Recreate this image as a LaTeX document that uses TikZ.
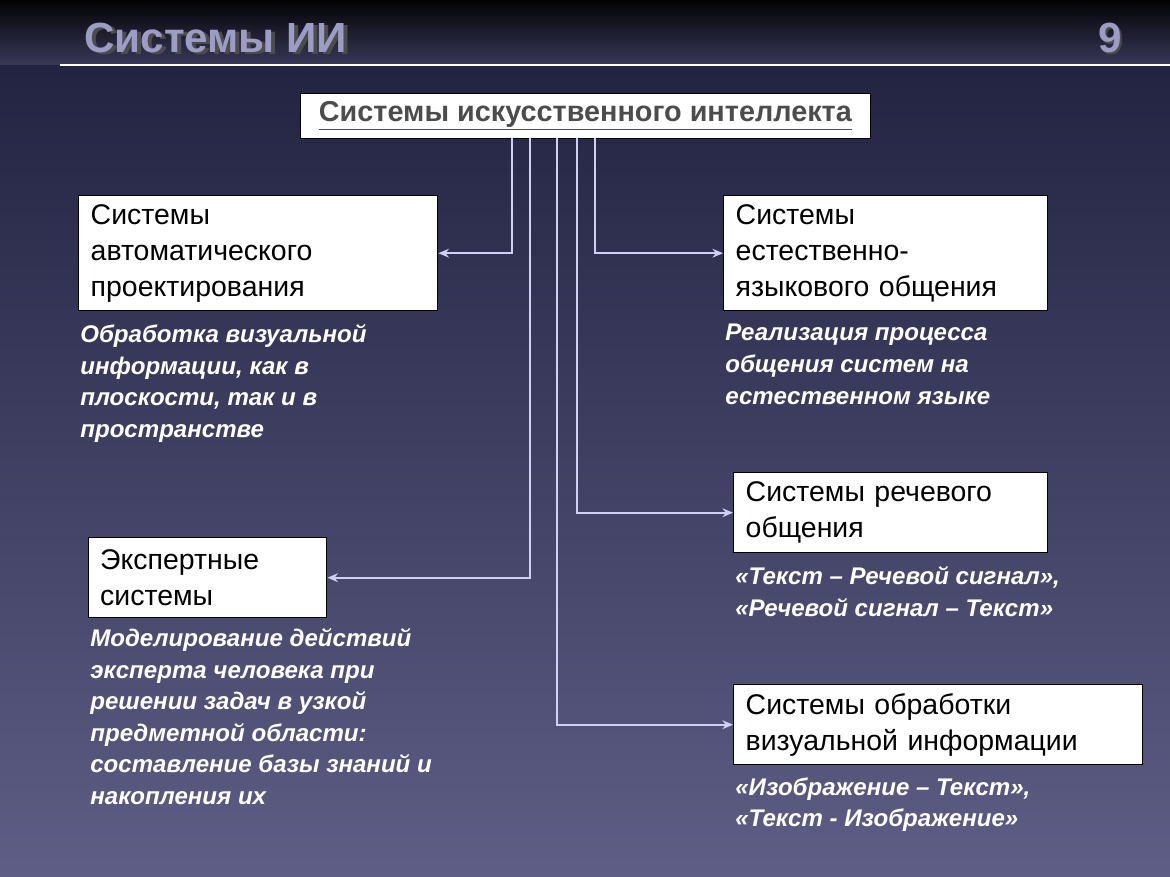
\documentclass[tikz,border=0pt]{standalone}
\usepackage{fontspec}
\setmainfont{Liberation Sans}
\usetikzlibrary{arrows.meta}
\definecolor{bgtop}{HTML}{1E1E3C}
\definecolor{bgbot}{HTML}{5E5E86}
\definecolor{conn}{HTML}{D0D0F4}
\definecolor{titlec}{HTML}{9C9CC4}
\tikzset{
 box/.style={draw=black,line width=0.8pt,fill=white,align=left,anchor=north west,inner sep=0pt,font=\fontsize{16.2}{20.4}\selectfont,text=black},
 captext/.style={align=left,anchor=north west,inner sep=0pt,text=white,font=\fontsize{13.7}{18}\selectfont\bfseries\itshape},
 link/.style={draw=conn,line width=1pt,-{Stealth[length=6pt,width=5pt]}}
}
\begin{document}
\begin{tikzpicture}[x=0.02cm,y=-0.02cm]
\useasboundingbox (0,0) rectangle (1170,876);
\shade[top color=bgtop,bottom color=bgbot] (0,0) rectangle (1170,876);
\shade[top color=black!90!bgtop,bottom color=bgtop!80!titlec] (0,0) rectangle (1170,64);
\draw[white,line width=1.5pt] (60,65) -- (1170,65);
\node[anchor=west,text=black!70,font=\fontsize{24}{28}\selectfont\bfseries] at (82,40) {Системы ИИ};
\node[anchor=west,text=titlec,font=\fontsize{24}{28}\selectfont\bfseries] (title) at (78,38) {Системы ИИ};
\node[anchor=east,text=black!70,font=\fontsize{24}{28}\selectfont\bfseries] at (1130,40) {9};
\node[anchor=east,text=titlec,font=\fontsize{24}{28}\selectfont\bfseries] (num) at (1128,38) {9};
\node[draw=black,fill=white,minimum width=570*0.02cm,minimum height=45*0.02cm,anchor=north west,inner sep=0pt,
 font=\fontsize{16.4}{18}\selectfont\bfseries,text=black!70] (top) at (300,93) {\underline{Системы искусственного интеллекта}};
% boxes
\node[box,minimum width=359*0.02cm,minimum height=115*0.02cm,text width=335*0.02cm,inner xsep=12*0.02cm] (A) at (78,195) {Системы\\автоматического\\проектирования};
\node[box,minimum width=323*0.02cm,minimum height=115*0.02cm,text width=300*0.02cm,inner xsep=12*0.02cm] (B) at (723,195) {Системы\\естественно-\\языкового общения};
\node[box,minimum width=313*0.02cm,minimum height=80*0.02cm,text width=290*0.02cm,inner xsep=12*0.02cm] (C) at (733,472) {Системы речевого\\общения};
\node[box,minimum width=238*0.02cm,minimum height=80*0.02cm,text width=215*0.02cm,inner xsep=10*0.02cm] (D) at (88,537) {Экспертные\\системы};
\node[box,minimum width=407*0.02cm,minimum height=80*0.02cm,text width=385*0.02cm,inner xsep=12*0.02cm] (E) at (733,684) {Системы обработки\\визуальной информации};
% connectors
\coordinate (tA) at (512,138); \coordinate (tB) at (595,138); \coordinate (tC) at (577,138);
\coordinate (tD) at (530,138); \coordinate (tE) at (557,138);
\draw[link] (tA) |- (A.east);
\draw[link] (tB) |- (B.west);
\draw[link] (tC) |- (C.west);
\draw[link] (tD) |- (D.east);
\draw[link] (tE) |- (E.west);
% captions
\node[captext] (cA) at (80,324) {Обработка визуальной\\информации, как в\\плоскости, так и в\\пространстве};
\node[captext] (cB) at (725,324) {Реализация процесса\\общения систем на\\естественном языке};
\node[captext] (cC) at (735,566) {«Текст – Речевой сигнал»,\\«Речевой сигнал – Текст»};
\node[captext] (cD) at (90,628) {Моделирование действий\\эксперта человека при\\решении задач в узкой\\предметной области:\\составление базы знаний и\\накопления их};
\node[captext] (cE) at (735,777) {«Изображение – Текст»,\\«Текст - Изображение»};
\end{tikzpicture}
\end{document}
